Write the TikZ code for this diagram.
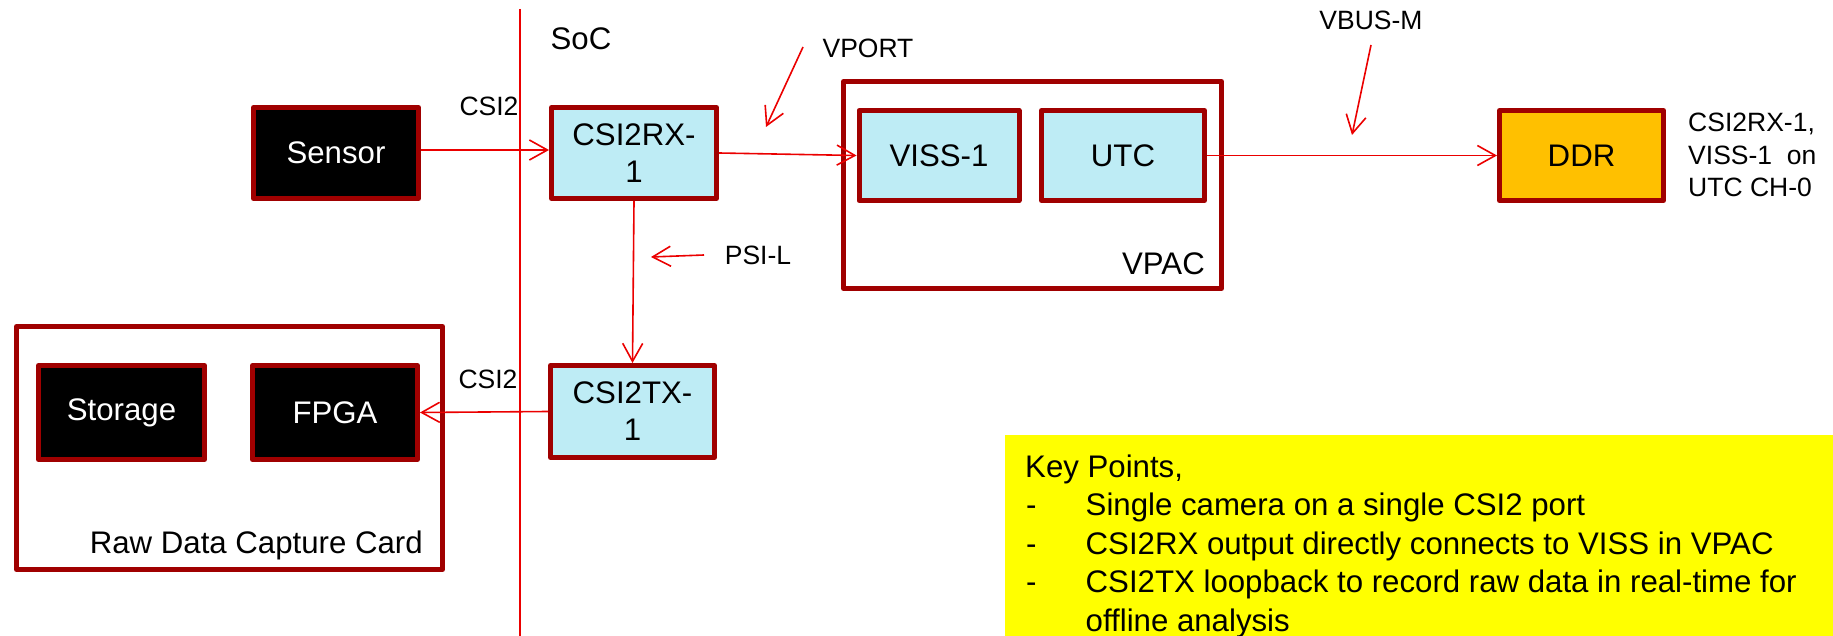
\documentclass[tikz,border=0pt]{standalone}
\usepackage{fontspec}
\setmainfont{Liberation Sans}
\usetikzlibrary{arrows.meta}

\definecolor{boxred}{RGB}{160,0,0}
\definecolor{ipcyan}{RGB}{190,236,245}
\definecolor{ddrorange}{RGB}{255,192,0}
\definecolor{linkred}{RGB}{235,0,0}
\definecolor{noteyellow}{RGB}{255,255,0}

\begin{document}
\begin{tikzpicture}[x=1pt,y=-1pt,
  block/.style={draw=boxred, line width=5pt, line join=round, inner sep=0pt,
    align=center, font=\fontsize{31.2}{37}\selectfont},
  darkblock/.style={block, fill=black, text=white},
  ipblock/.style={block, fill=ipcyan},
  groupbox/.style={draw=boxred, line width=5pt, line join=round, inner sep=0pt},
  conn/.style={draw=linkred, line width=1.6pt,
    -{Straight Barb[length=18pt,width=20pt]}},
  bigtext/.style={inner sep=0pt, font=\fontsize{31.2}{37}\selectfont},
  smalltext/.style={inner sep=0pt, font=\fontsize{26.5}{32.5}\selectfont},
]
\useasboundingbox (0,0) rectangle (1833,636);

% key points note
\node[fill=noteyellow, inner sep=0pt, minimum width=828pt, minimum height=201pt,
  anchor=north west] (keybox) at (1005,435) {};

% SoC boundary
\draw[linkred, line width=1.4pt] (520,9) -- (520,636);
\node[bigtext, anchor=base] (soc) at (581,50) {SoC};

% grouping frames
\node[groupbox, minimum width=378pt, minimum height=207pt] (vpac) at (1032.5,185) {};
\node[bigtext, anchor=base east] (vpaclabel) at (1205,275) {VPAC};
\node[groupbox, minimum width=426pt, minimum height=243pt] (rawcard) at (229.5,448) {};
\node[bigtext, anchor=base east] (rawlabel) at (423,553) {Raw Data Capture Card};

% blocks
\node[darkblock, minimum width=165pt, minimum height=91pt] (sensor) at (336,153) {Sensor};
\node[ipblock, minimum width=165pt, minimum height=91pt] (csirx) at (634,153) {CSI2RX-\\1};
\node[ipblock, minimum width=160pt, minimum height=90pt] (viss) at (939,155.5) {VISS-1};
\node[ipblock, minimum width=163pt, minimum height=90pt] (utc) at (1123,155.5) {UTC};
\node[block, fill=ddrorange, minimum width=164pt, minimum height=90pt] (ddr) at (1581.5,155.5) {DDR};
\node[ipblock, minimum width=164pt, minimum height=92pt] (csitx) at (632.5,411.5) {CSI2TX-\\1};
\node[darkblock, minimum width=166pt, minimum height=94pt] (storage) at (121.5,412.5) {Storage};
\node[darkblock, minimum width=165pt, minimum height=94pt] (fpga) at (335,412.5) {FPGA};

% data paths
\coordinate (sensorrow) at (0,150);
\draw[conn] (sensor.east |- sensorrow) -- (csirx.west |- sensorrow);
\draw[conn] (csirx.east) -- (viss.west);
\draw[conn] (utc.east) -- (ddr.west);
\draw[conn] (csirx.south) -- (csitx.north);
\draw[conn] (csitx.west) -- (fpga.east);

% interface labels and pointers
\node[smalltext, anchor=base] (csiin) at (489,116) {CSI2};
\node[smalltext, anchor=base] (csiout) at (488,388) {CSI2};
\node[smalltext, anchor=base] (vport) at (868,58) {VPORT};
\node[smalltext, anchor=base] (psil) at (758,265) {PSI-L};
\node[smalltext, anchor=base] (vbus) at (1371,30) {VBUS-M};
\coordinate (vportTail) at (803,47);
\coordinate (vportHead) at (766,127);
\coordinate (psiTail) at (704,255);
\coordinate (psiHead) at (651,257);
\coordinate (vbusTail) at (1371,45);
\coordinate (vbusHead) at (1352,135);
\draw[conn] (vportTail) -- (vportHead);
\draw[conn] (psiTail) -- (psiHead);
\draw[conn] (vbusTail) -- (vbusHead);

\node[smalltext, align=left, anchor=north west] (ddrnote) at (1688,113)
  {CSI2RX-1,\\VISS-1\ \ on\\UTC CH-0};

% key points text
\node[bigtext, anchor=base west] (keyhead) at (1025,477) {Key Points,};
\node[bigtext, anchor=base west] (dashA) at (1026,515.5) {-};
\node[bigtext, anchor=base west] (itemA) at (1085.5,515.5) {Single camera on a single CSI2 port};
\node[bigtext, anchor=base west] (dashB) at (1026,554) {-};
\node[bigtext, anchor=base west] (itemB) at (1085.5,554) {CSI2RX output directly connects to VISS in VPAC};
\node[bigtext, anchor=base west] (dashC) at (1026,592.5) {-};
\node[bigtext, anchor=base west] (itemC) at (1085.5,592.5) {CSI2TX loopback to record raw data in real-time for};
\node[bigtext, anchor=base west] (itemCc) at (1085.5,631) {offline analysis};
\end{tikzpicture}
\end{document}
